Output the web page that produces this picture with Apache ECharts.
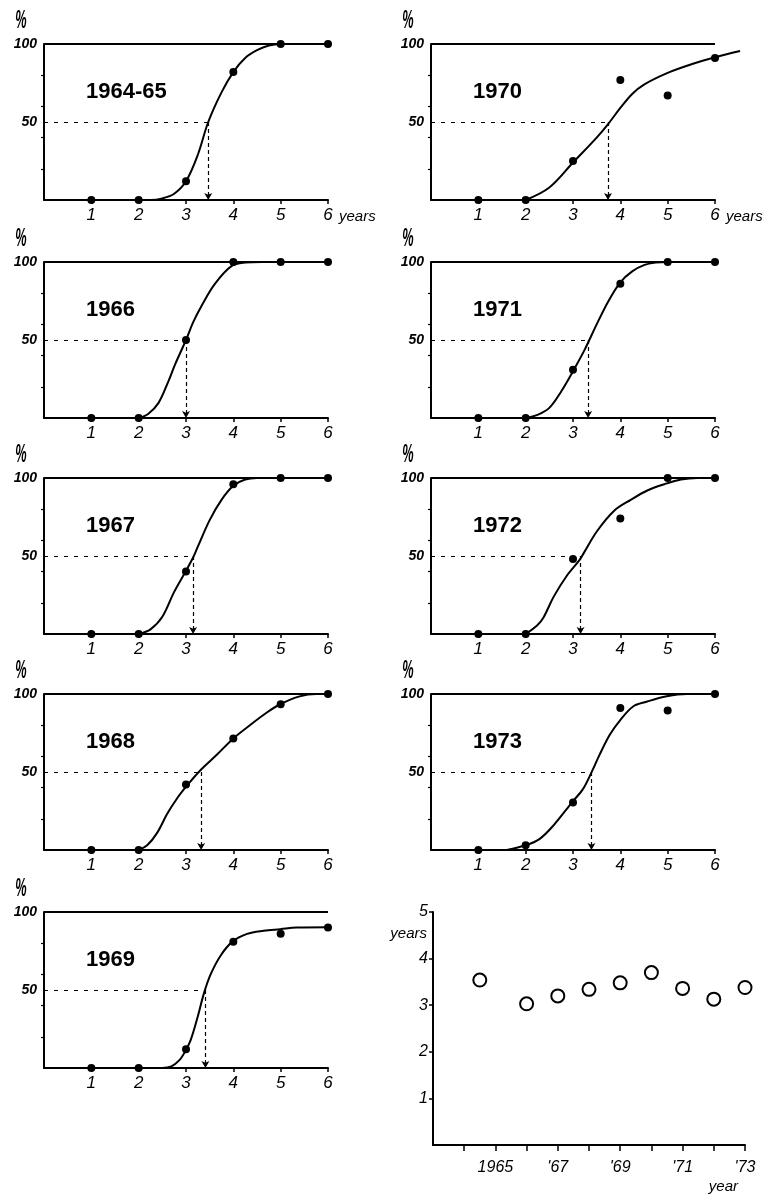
<!DOCTYPE html>
<html><head><meta charset="utf-8">
<script src="https://cdn.jsdelivr.net/npm/echarts@6/dist/echarts.min.js"></script>
<style>html,body{margin:0;padding:0;background:#fff}#c{width:769px;height:1195px}</style>
</head><body><div id="c"></div>
<script>
// ---------- DATA ----------
const panelLabels = ['1964-65','1966','1967','1968','1969','1970','1971','1972','1973'];
const xTickValues = [1,2,3,4,5,6];
const yLabelValues = [50,100];
const yTickValues = [20,40,60,80];
const dotX = [1,2,3,4,5,6];

const dots1964 = [0,0,12,82,100,100];
const dots1966 = [0,0,50,100,100,100];
const dots1967 = [0,0,40,96,100,100];
const dots1968 = [0,0,42,71.5,93.5,100];
const dots1969 = [0,0,12,81,86,90];
const dots1970 = [0,0,25,77,67,91];
const dots1971 = [0,0,31,86,100,100];
const dots1972 = [0,0,48,74,100,100];
const dots1973 = [0,3,30.5,91,89.5,100];

const curve1964 = [[2,0],[2.25,0],[2.5,1],[2.75,4],[3,12],[3.25,29],[3.47,50],[3.75,69],[4,82],[4.25,91],[4.5,96],[4.75,99],[5,100],[6,100]];
const curve1966 = [[2,0],[2.2,2.6],[2.42,9.7],[2.63,23.7],[2.77,34.4],[3,50],[3.15,61.3],[3.33,72],[3.61,86],[3.96,97.4],[4.25,99.6],[4.6,100],[6,100]];
const curve1967 = [[2,0],[2.25,3],[2.5,11],[2.75,27],[3,40.5],[3.15,49],[3.25,56],[3.5,73],[3.75,86],[4,95],[4.25,99],[4.5,100],[6,100]];
const curve1968 = [[2,0],[2.18,3],[2.39,11],[2.6,23],[2.81,33],[3.04,42],[3.3,51],[3.65,61],[4,71.5],[4.35,80],[4.7,88],[5,93.6],[5.4,98.5],[5.75,100],[6,100]];
const curve1969 = [[2,0],[2.5,0],[2.69,1],[2.86,5],[2.99,11],[3.1,18],[3.24,32],[3.38,48],[3.52,60],[3.73,72],[3.98,81],[4.29,86],[4.64,88],[4.99,89],[5.34,90],[6,90.3]];
const curve1970 = [[2,0],[2.5,8],[3,24],[3.5,40],[3.75,49],[4,59],[4.25,68],[4.5,74],[5,81.5],[5.5,87],[6,91.5],[6.53,95.5]];
const curve1971 = [[2,0],[2.25,2],[2.5,6.5],[2.75,17],[3,30],[3.25,44],[3.5,60],[3.75,75],[4,87],[4.25,94],[4.5,98],[4.75,99.6],[5,100],[6,100]];
const curve1972 = [[2,0],[2.24,5.4],[2.38,10.8],[2.59,23.8],[2.88,37.8],[3.14,47.5],[3.23,52],[3.51,66],[3.87,79],[4.22,86],[4.57,92],[4.93,96],[5.28,99],[5.63,100],[6,100]];
const curve1973 = [[1.6,0],[2,3],[2.29,7],[2.58,15.5],[2.98,30.6],[3.21,39],[3.41,51],[3.56,61],[3.78,74],[3.99,83],[4.27,92],[4.55,95],[4.98,98.5],[5.4,100],[6,100]];

const medians = [3.47,3.0,3.15,3.32,3.41,3.74,3.32,3.16,3.39];

const scatterYears  = [1964.5,1966,1967,1968,1969,1970,1971,1972,1973];
const scatterValues = [3.54,3.03,3.20,3.34,3.48,3.70,3.36,3.13,3.38];
const scatterYTicks = [1,2,3,4,5];
const scatterXTicks = [1964,1965,1966,1967,1968,1969,1970,1971,1972,1973];
const scatterXLabelValues = [1965,1967,1969,1971,1973];
const scatterXLabelText = ['1965',"'67","'69","'71","'73"];

const allDots = [dots1964,dots1966,dots1967,dots1968,dots1969,dots1970,dots1971,dots1972,dots1973];
const allCurves = [curve1964,curve1966,curve1967,curve1968,curve1969,curve1970,curve1971,curve1972,curve1973];

// ---------- LAYOUT ----------
const COL_LEFT = [44, 431];
const ROW_TOP = [44, 262, 478, 694, 912];
const GW = 284, GH = 156;
const X_MAX = 6, CURVE_X_MAX = 6.6;
const FONT = 'Liberation Sans';
const BLACK = '#000';

const grid = [], xAxis = [], yAxis = [], series = [], graphic = [];
const hidden = {show: false};

panelLabels.forEach((label, i) => {
  const col = i < 5 ? 0 : 1;
  const row = i < 5 ? i : i - 5;
  const left = COL_LEFT[col], top = ROW_TOP[row];
  const g = grid.length;
  // visible panel grid
  grid.push({left: left, top: top, width: GW, height: GH});
  // overlay grid for the fitted curve (same scale, allowed to run past x=6)
  grid.push({left: left, top: top, width: GW * CURVE_X_MAX / X_MAX, height: GH});
  const showYears = row === 0;
  xAxis.push({
    type: 'value', gridIndex: g, min: 0, max: X_MAX,
    axisLine: {show: true, onZero: false, lineStyle: {color: BLACK, width: 2}},
    axisTick: {show: true, length: 4, customValues: xTickValues, lineStyle: {color: BLACK, width: 1.5}},
    axisLabel: {customValues: xTickValues, margin: 7, fontSize: 17,
      fontStyle: 'italic', color: BLACK, fontFamily: FONT},
    splitLine: hidden,
    name: showYears ? 'years' : '', nameLocation: 'end', nameGap: 11,
    nameTextStyle: {fontSize: 15, fontStyle: 'italic', color: BLACK, fontFamily: FONT,
      align: 'left', verticalAlign: 'top', padding: [9, 0, 0, 0]}
  });
  xAxis.push({type: 'value', gridIndex: g + 1, min: 0, max: CURVE_X_MAX,
    axisLine: hidden, axisTick: hidden, axisLabel: hidden, splitLine: hidden});
  yAxis.push({
    type: 'value', gridIndex: g, min: 0, max: 100, position: 'left',
    axisLine: {show: true, onZero: false, lineStyle: {color: BLACK, width: 2}},
    axisTick: {show: true, length: 3, customValues: yTickValues, lineStyle: {color: BLACK, width: 1.2}},
    axisLabel: {customValues: yLabelValues, margin: 7, fontSize: 14,
      fontStyle: 'italic', fontWeight: 'bold', color: BLACK, fontFamily: FONT},
    splitLine: hidden
  });
  yAxis.push({type: 'value', gridIndex: g + 1, min: 0, max: 100,
    axisLine: hidden, axisTick: hidden, axisLabel: hidden, splitLine: hidden});
  const m = medians[i];
  series.push({
    type: 'line', xAxisIndex: g + 1, yAxisIndex: g + 1, data: allCurves[i],
    smooth: 0.35, showSymbol: false, silent: true,
    lineStyle: {color: BLACK, width: 2, opacity: 1}, z: 3
  });
  series.push({
    type: 'scatter', xAxisIndex: g, yAxisIndex: g,
    data: dotX.map((x, k) => [x, allDots[i][k]]),
    symbol: 'circle', symbolSize: 8, itemStyle: {color: BLACK, opacity: 1}, clip: false, silent: true, z: 4,
    markLine: {
      silent: true, symbol: ['none', 'none'], label: {show: false}, animation: false,
      lineStyle: {color: BLACK, width: 1.2, type: [4, 6], opacity: 1},
      data: [
        [{coord: [0, 100], lineStyle: {type: 'solid', width: 2}}, {coord: [X_MAX, 100]}],
        [{coord: [0, 50]}, {coord: [m, 50]}],
        [{coord: [m, 50], symbol: 'none'}, {coord: [m, 0], symbol: 'arrow', symbolSize: [6, 7],
          lineStyle: {type: [4, 3]}}]
      ]
    }
  });
  graphic.push({
    type: 'text', left: left + 42, top: top + 37, silent: true,
    style: {text: label, fontSize: 22, fontWeight: 'bold', fontFamily: FONT, fill: BLACK}
  });
  graphic.push({
    type: 'text', x: left - 23, y: top - 23, silent: true, scaleX: 0.75, scaleY: 1.5,
    style: {text: '%', fontSize: 17, fontStyle: 'italic', fontWeight: 'bold', fontFamily: FONT, fill: BLACK,
      align: 'center', verticalAlign: 'middle'}
  });
});

// scatter panel
const sg = grid.length;
grid.push({left: 433, top: 912, width: 312, height: 233});
xAxis.push({
  type: 'value', gridIndex: sg, min: 1963, max: 1973,
  axisLine: {show: true, onZero: false, lineStyle: {color: BLACK, width: 2}},
  axisTick: {show: true, length: 6, customValues: scatterXTicks, lineStyle: {color: BLACK, width: 1.5}},
  axisLabel: {customValues: scatterXLabelValues,
    formatter: v => scatterXLabelText[scatterXLabelValues.indexOf(Math.round(v))] || '',
    margin: 15, fontSize: 16, fontStyle: 'italic', color: BLACK, fontFamily: FONT},
  splitLine: hidden
});
yAxis.push({
  type: 'value', gridIndex: sg, min: 0, max: 5, position: 'left',
  axisLine: {show: true, onZero: false, lineStyle: {color: BLACK, width: 2}},
  axisTick: {show: true, length: 4, customValues: scatterYTicks, lineStyle: {color: BLACK, width: 1.5}},
  axisLabel: {customValues: scatterYTicks, margin: 5, fontSize: 16,
    fontStyle: 'italic', color: BLACK, fontFamily: FONT},
  splitLine: hidden
});
series.push({
  type: 'scatter', xAxisIndex: sg, yAxisIndex: sg,
  data: scatterYears.map((y, k) => [y, scatterValues[k]]),
  symbol: 'circle', symbolSize: 13, clip: false, silent: true,
  itemStyle: {color: '#fff', borderColor: BLACK, borderWidth: 2, opacity: 1}
});
graphic.push({
  type: 'text', x: 427, y: 934, silent: true,
  style: {text: 'years', fontSize: 15, fontStyle: 'italic', fontFamily: FONT, fill: BLACK,
    align: 'right', verticalAlign: 'middle'}
});
graphic.push({
  type: 'text', x: 738, y: 1187, silent: true,
  style: {text: 'year', fontSize: 15, fontStyle: 'italic', fontFamily: FONT, fill: BLACK,
    align: 'right', verticalAlign: 'middle'}
});

const chart = echarts.init(document.getElementById('c'), null, {renderer: 'canvas'});
chart.setOption({
  animation: false,
  backgroundColor: '#fff',
  grid: grid, xAxis: xAxis, yAxis: yAxis, series: series, graphic: graphic
});
</script>
</body></html>
